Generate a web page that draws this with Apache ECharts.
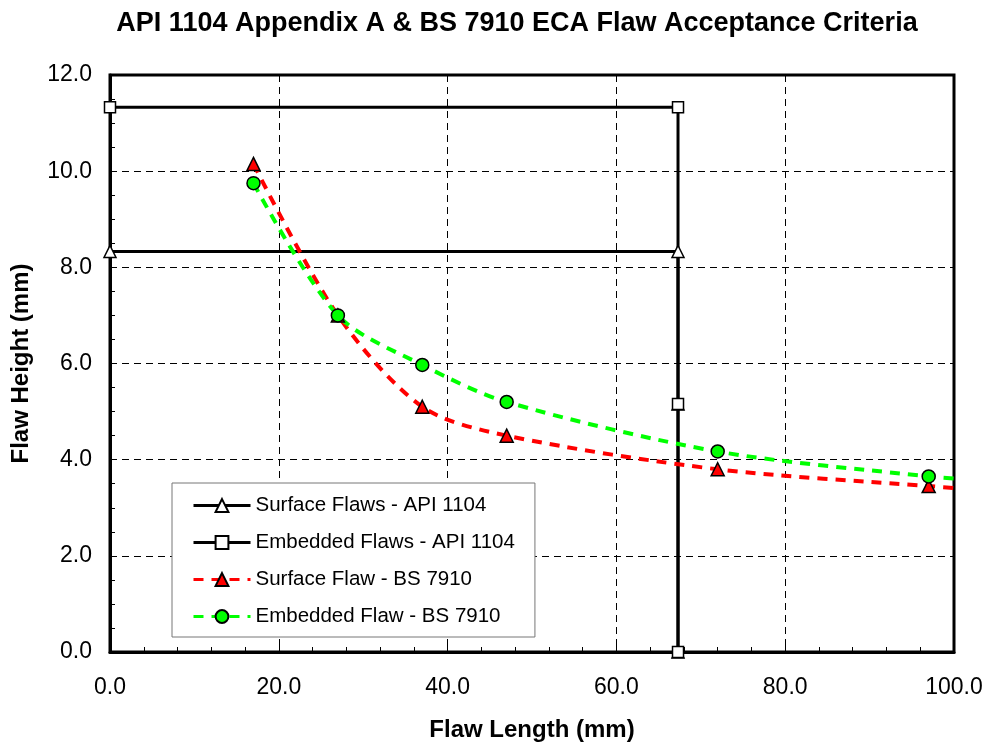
<!DOCTYPE html>
<html><head><meta charset="utf-8">
<script src="https://cdn.jsdelivr.net/npm/echarts@6/dist/echarts.min.js"></script>
<style>html,body{margin:0;padding:0;background:#fff}#c{width:985px;height:742px}</style>
</head><body><div id="c"></div>
<script>
const titleText = 'API 1104 Appendix A & BS 7910 ECA Flaw Acceptance Criteria';
const xTitle = 'Flaw Length (mm)';
const yTitle = 'Flaw Height (mm)';
const seriesNames = ['Surface Flaws - API 1104','Embedded Flaws - API 1104','Surface Flaw - BS 7910','Embedded Flaw - BS 7910'];
const apiSurface = [[0,8.33],[67.3,8.33],[67.3,5.16],[67.3,0]];
const apiEmbedded = [[0,11.33],[67.3,11.33],[67.3,5.16],[67.3,0]];
const bsSurfaceX = [17,27,37,47,72,97];
const bsSurfaceY = [10.15,7.0,5.1,4.5,3.8,3.45];
const bsEmbeddedX = [17,27,37,47,72,97];
const bsEmbeddedY = [9.75,7.0,5.97,5.2,4.17,3.65];
const bsSurfaceTail = [101,3.4];
const bsEmbeddedTail = [101,3.6];

const font = 'Liberation Sans, Arial, sans-serif';
function pts(xs, ys, tail){ const a = xs.map((x,i)=>[x,ys[i]]); a.push({value:tail, symbol:'none'}); return a; }

const chart = echarts.init(document.getElementById('c'));
chart.setOption({
  animation:false,
  backgroundColor:'#fff',
  title:{text:titleText,left:512,textAlign:'center',top:5,textStyle:{fontFamily:font,fontSize:27,fontWeight:'bold',color:'#000'}},
  grid:{left:110,right:31,top:75,bottom:90,containLabel:false,outerBoundsMode:'none',show:true,borderColor:'#000',borderWidth:3,backgroundColor:'transparent'},
  xAxis:{type:'value',min:0,max:100,interval:20,
    name:xTitle,nameLocation:'middle',nameGap:66,nameTextStyle:{fontFamily:font,fontSize:24,fontWeight:'bold',color:'#000'},
    axisLine:{show:true,lineStyle:{color:'#000',width:3}},
    axisTick:{show:true,inside:true,length:6,lineStyle:{color:'#000',width:1}},
    minorTick:{show:true,splitNumber:5,length:5,lineStyle:{color:'#000',width:1}},
    axisLabel:{fontFamily:font,fontSize:23,color:'#000',margin:24,formatter:v=>v.toFixed(1)},
    splitLine:{show:true,lineStyle:{color:'#000',width:1,type:[7,5]}}},
  yAxis:{type:'value',min:0,max:12,interval:2,
    name:yTitle,nameLocation:'middle',nameGap:77,nameTextStyle:{fontFamily:font,fontSize:24,fontWeight:'bold',color:'#000'},
    axisLine:{show:true,lineStyle:{color:'#000',width:3}},
    axisTick:{show:true,inside:true,length:6,lineStyle:{color:'#000',width:1}},
    minorTick:{show:true,splitNumber:4,length:5,lineStyle:{color:'#000',width:1}},
    axisLabel:{fontFamily:font,fontSize:23,color:'#000',margin:18,formatter:v=>v.toFixed(1)},
    splitLine:{show:true,lineStyle:{color:'#000',width:1,type:[7,5]}}},
  legend:{orient:'vertical',left:172,top:483,padding:[12,20,10,20],itemGap:16,itemWidth:57,itemHeight:16,
    backgroundColor:'#fff',borderColor:'#777',borderWidth:1,borderRadius:0,
    lineStyle:{width:3},
    textStyle:{fontFamily:font,fontSize:20.5,color:'#000'},data:seriesNames},
  series:[
    {name:seriesNames[0],type:'line',data:apiSurface,symbol:'triangle',symbolSize:12,z:3,
      lineStyle:{color:'#000',width:3},itemStyle:{color:'#fff',borderColor:'#000',borderWidth:1.5}},
    {name:seriesNames[1],type:'line',data:apiEmbedded,symbol:'rect',symbolSize:11,z:3,
      lineStyle:{color:'#000',width:3},itemStyle:{color:'#fff',borderColor:'#000',borderWidth:1.5}},
    {name:seriesNames[2],type:'line',data:pts(bsSurfaceX,bsSurfaceY,bsSurfaceTail),smooth:0.3,symbol:'triangle',symbolSize:13,z:4,
      lineStyle:{color:'#ff0000',width:4,type:[10,8]},itemStyle:{color:'#ff0000',borderColor:'#000',borderWidth:1.5}},
    {name:seriesNames[3],type:'line',data:pts(bsEmbeddedX,bsEmbeddedY,bsEmbeddedTail),smooth:0.3,symbol:'circle',symbolSize:13,z:4,
      lineStyle:{color:'#00ff00',width:4,type:[10,8]},itemStyle:{color:'#00ff00',borderColor:'#000',borderWidth:1.5}}
  ]
});
</script></body></html>
